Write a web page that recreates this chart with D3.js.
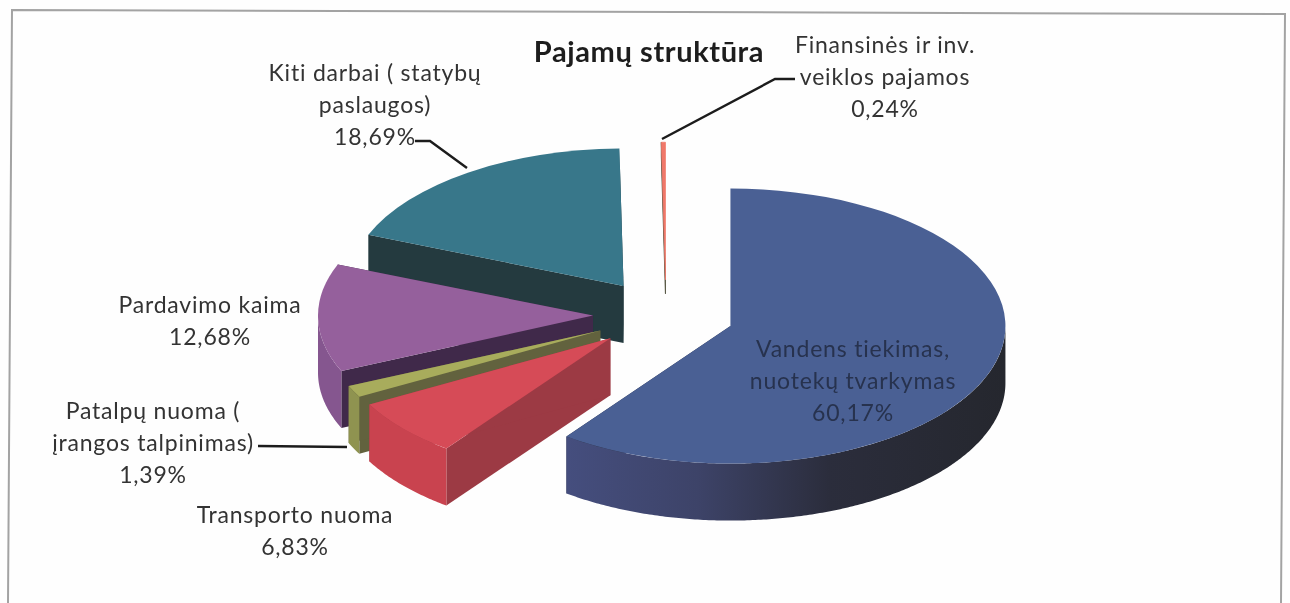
<!DOCTYPE html>
<html>
<head>
<meta charset="utf-8">
<script src="https://d3js.org/d3.v7.min.js"></script>
<style>
html,body{margin:0;padding:0;background:#fefefe;overflow:hidden}
svg{display:block;filter:blur(0.5px)}
text{font-family:Lato,"Open Sans",sans-serif;fill:#333}
</style>
</head>
<body>
<svg id="c" width="1290" height="603"></svg>
<script>
// ---- data ----
const categories = ["Vandens tiekimas, nuotekų tvarkymas","Transporto nuoma","Patalpų nuoma ( įrangos talpinimas)","Pardavimo kaima","Kiti darbai ( statybų paslaugos)","Finansinės ir inv. veiklos pajamos"];
const values = [60.17,6.83,1.39,12.68,18.69,0.24];
const valueLabels = ["60,17%","6,83%","1,39%","12,68%","18,69%","0,24%"];
const titleText = "Pajamų struktūra";
const labelLines = [
  ["Vandens tiekimas,","nuotekų tvarkymas","60,17%"],
  ["Transporto nuoma","6,83%"],
  ["Patalpų nuoma (","įrangos talpinimas)","1,39%"],
  ["Pardavimo kaima","12,68%"],
  ["Kiti darbai ( statybų","paslaugos)","18,69%"],
  ["Finansinės ir inv.","veiklos pajamos","0,24%"]
];

// ---- layout & style ----
const cx = 663.5, cy = 315, R = 275, tilt = 0.5, explode = 70.5;
const depths = [57,57,57,57,57,14];
const nudgeX = [0,0,0,0,0,2.5];
const topCol  = ["#4a6094","#d64b57","#a8ac5c","#95609c","#38778a","#f0786a"];
const cutCol  = ["#2c2f45","#9c3a44","#62623e","#40294a","#243a3f","#5a5a48"];
const rimCol  = ["url(#blueRim)","#c9434f","#8f9350","#85568f","#2a5866","#8a8a70"];
const labelPos = [[853,349],[295,515],[153,411],[210,305],[375,73],[885,45]];
const lineGap = [32,32,32,32,32,32];
const leaders = [null,null,[[258,446],[347,447]],null,[[415,141],[430,141],[467,168]],[[795,79],[775,79],[662,139]]];

const svg = d3.select("#c");
const defs = svg.append("defs");
const g = defs.append("linearGradient").attr("id","blueRim").attr("x1","0").attr("x2","1").attr("y1","0").attr("y2","0");
[[0,"#454e7e"],[0.3,"#3d4368"],[0.6,"#2b2d3c"],[1,"#25272e"]].forEach(s=>g.append("stop").attr("offset",s[0]).attr("stop-color",s[1]));

// frame of the scanned page
const frame = d3.line();
svg.append("path").attr("d",frame([[8,603],[12,10],[1285,14],[1281,603]]))
  .attr("fill","none").attr("stroke","#a3a3a3").attr("stroke-width",2);

// pie
const pie = d3.pie().sort(null).value(d=>d).startAngle(0).endAngle(2*Math.PI);
const arcs = pie(values);
const arc = d3.arc().innerRadius(0).outerRadius(R);
const xS = d3.scaleLinear().domain([-1,1]).range([-R,R]);
const yS = d3.scaleLinear().domain([-1,1]).range([-R*tilt,R*tilt]);
const line = d3.line();

const order = [5,4,3,2,1,0];
order.forEach(i=>{
  const a = arcs[i], mid = (a.startAngle+a.endAngle)/2, dep = depths[i];
  const ox = cx + nudgeX[i] + explode*Math.sin(mid), oy = cy - explode*tilt*Math.cos(mid);
  const P = (t,dz)=>[ox+xS(Math.sin(t)), oy-yS(Math.cos(t))+dz];
  const G = svg.append("g");
  // cut faces
  [a.startAngle,a.endAngle].forEach(t=>{
    if(Math.abs(Math.sin(t))<1e-6) return;
    G.append("path").attr("d",line([[ox,oy],P(t,0),P(t,dep),[ox,oy+dep]])+"Z")
      .attr("fill",cutCol[i]).attr("stroke",cutCol[i]).attr("stroke-width",i===5?1:0);
  });
  // visible rim (front half of the ellipse)
  const t0 = Math.max(a.startAngle,Math.PI/2), t1 = Math.min(a.endAngle,1.5*Math.PI);
  if(t1>t0){
    const ts = d3.range(t0,t1,0.01).concat([t1]);
    const pts = ts.map(t=>P(t,0)).concat(ts.slice().reverse().map(t=>P(t,dep)));
    G.append("path").attr("d",line(pts)+"Z").attr("fill",rimCol[i]);
  }
  // top face
  G.append("path").attr("d",arc(a))
    .attr("transform",`translate(${ox},${oy}) scale(1,${tilt})`)
    .attr("fill",topCol[i]).attr("stroke",topCol[i]).attr("stroke-width",i===5?1:0);
});

// leader lines
leaders.forEach(l=>{ if(l) svg.append("path").attr("d",line(l)).attr("fill","none").attr("stroke","#1c1c1c").attr("stroke-width",2.4); });

// title
svg.append("text").attr("x",649).attr("y",62).attr("text-anchor","middle")
  .style("font-size","29px").style("font-weight","700").style("letter-spacing","0.6px").style("fill","#1d1d1d").text(titleText);

// labels
labelLines.forEach((lines,i)=>{
  const t = svg.append("text").attr("text-anchor","middle").style("font-size","23px").style("letter-spacing","0.8px");
  if(i===0) t.style("fill","#27324e");
  lines.forEach((s,j)=>t.append("tspan").attr("x",labelPos[i][0]).attr("y",labelPos[i][1]+8+j*lineGap[i]).text(s));
});
</script>
</body>
</html>
